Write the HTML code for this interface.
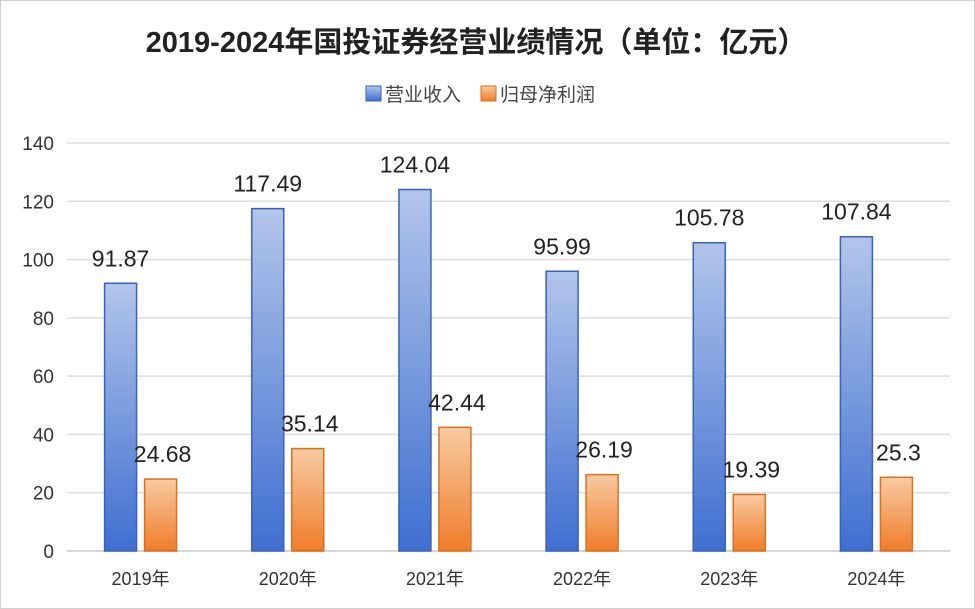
<!DOCTYPE html>
<html><head><meta charset="utf-8"><style>
html,body{margin:0;padding:0;background:#fff;}
body{width:975px;height:609px;overflow:hidden;font-family:"Liberation Sans","Noto Sans CJK SC",sans-serif;}
svg{display:block;}
</style></head><body>
<svg id="chart" width="975" height="609">
<defs>
<linearGradient id="gb" x1="0" y1="0" x2="0" y2="1"><stop offset="0" stop-color="#b3c5ea"/><stop offset="1" stop-color="#3f6fd0"/></linearGradient>
<linearGradient id="go" x1="0" y1="0" x2="0" y2="1"><stop offset="0" stop-color="#f8caa2"/><stop offset="1" stop-color="#ef7d2a"/></linearGradient>
</defs>
<rect x="0.5" y="0.5" width="974" height="608" fill="#fff" stroke="#cfcfcf"/>
<text x="476" y="52" text-anchor="middle" font-size="29" font-weight="bold" fill="#222">2019-2024年国投证券经营业绩情况（单位：亿元）</text>
<g>
<rect x="366" y="86" width="15" height="15" fill="url(#gb)" stroke="#3a62b8"/>
<text x="385" y="101" font-size="19" fill="#444">营业收入</text>
<rect x="481" y="86" width="15" height="15" fill="url(#go)" stroke="#d9711f"/>
<text x="500" y="101" font-size="19" fill="#444">归母净利润</text>
</g>
<g id="grid"></g><g id="bars"></g>
</svg>
<script>
const categories=["2019年","2020年","2021年","2022年","2023年","2024年"];
const revenue=[91.87,117.49,124.04,95.99,105.78,107.84];
const profit=[24.68,35.14,42.44,26.19,19.39,25.3];
const revenueLabels=["91.87","117.49","124.04","95.99","105.78","107.84"];
const profitLabels=["24.68","35.14","42.44","26.19","19.39","25.3"];
const ticks=[0,20,40,60,80,100,120,140];
const NS="http://www.w3.org/2000/svg";
const L=67,R=950,Y0=551,Y140=143;
const y=v=>Y0-(v/140)*(Y0-Y140);
const cw=(R-L)/categories.length;
const cx=i=>L+cw*(i+0.5);
const g=document.getElementById('grid'),b=document.getElementById('bars');
function mk(t,a,p){const e=document.createElementNS(NS,t);for(const k in a)e.setAttribute(k,a[k]);p.appendChild(e);return e;}
ticks.forEach(t=>{
 const ln=mk('line',{x1:L,x2:R,y1:y(t),y2:y(t),stroke:t===0?'#c8c8c8':'#dedede','stroke-width':1.5},g);
 
 
 const tx=mk('text',{x:54,y:y(t)+7,'text-anchor':'end','font-size':19,fill:'#333'},g);
 tx.textContent=t;
 
 
});
categories.forEach((c,i)=>{
 const bx=cx(i)-36,ox=cx(i)+4,w=32;
 const r1=mk('rect',{x:bx,y:y(revenue[i]),width:w,height:Y0-y(revenue[i]),fill:'url(#gb)',stroke:'#3a62b8','stroke-width':1.5},b);
 
 
 const r2=mk('rect',{x:ox,y:y(profit[i]),width:w,height:Y0-y(profit[i]),fill:'url(#go)',stroke:'#d9711f','stroke-width':1.5},b);
 
 
 const t1=mk('text',{x:bx+w/2,y:y(revenue[i])-17,'text-anchor':'middle','font-size':23,fill:'#222'},b);
 t1.textContent=revenueLabels[i];
 
 
 const t2=mk('text',{x:ox+w/2+2,y:y(profit[i])-17,'text-anchor':'middle','font-size':23,fill:'#222'},b);
 t2.textContent=profitLabels[i];
 
 
 const xl=mk('text',{x:cx(i),y:585,'text-anchor':'middle','font-size':18,fill:'#333'},b);
 xl.textContent=c;
 
 
});
</script>
</body></html>
